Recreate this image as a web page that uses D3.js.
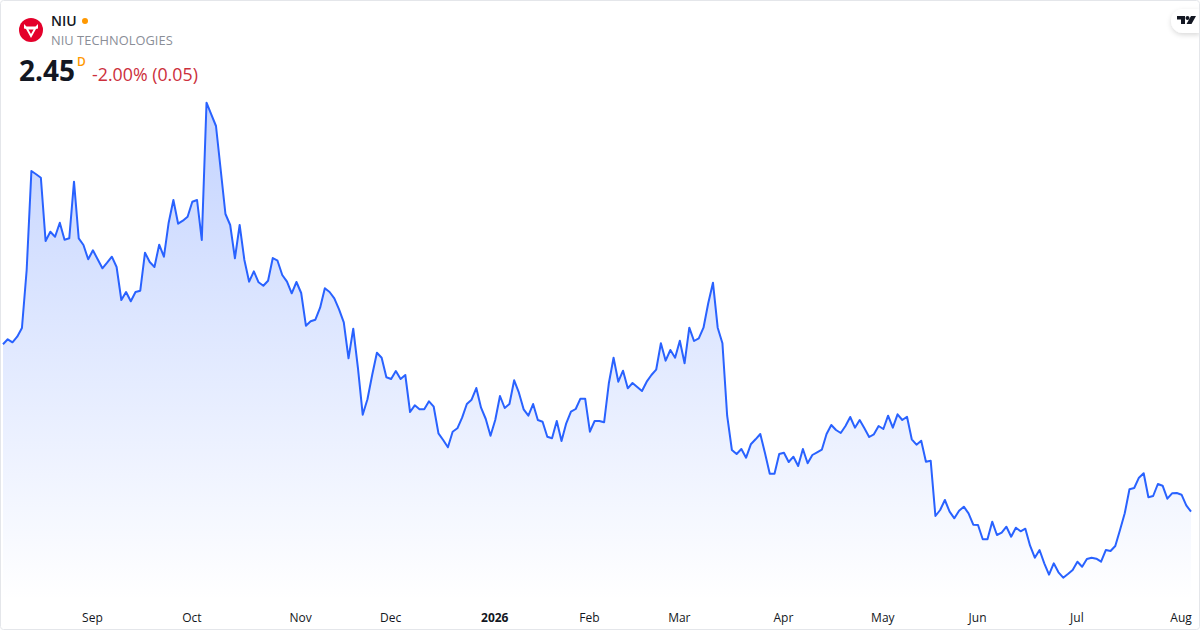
<!DOCTYPE html>
<html>
<head>
<meta charset="UTF-8">
<title>NIU</title>
<script src="https://cdn.jsdelivr.net/npm/d3@7"></script>
<style>
  html, body { margin: 0; padding: 0; background: #fff; }
  svg { display: block; font-family: "Open Sans", sans-serif; }
</style>
</head>
<body>
<script>
const closes = [
  4.127, 4.177, 4.147, 4.203, 4.29, 4.87, 5.86, 5.827, 5.793, 5.16, 5.253, 5.203, 5.343, 5.173, 5.187, 5.753,
  5.187, 5.12, 4.977, 5.067, 4.977, 4.887, 4.943, 5.003, 4.9, 4.57, 4.65, 4.557, 4.65, 4.663, 5.043, 4.95,
  4.9, 5.123, 5.003, 5.343, 5.57, 5.333, 5.363, 5.403, 5.553, 5.57, 5.17, 6.543, 6.427, 6.31, 5.87, 5.43,
  5.32, 4.987, 5.32, 4.97, 4.753, 4.857, 4.747, 4.713, 4.763, 4.99, 4.963, 4.82, 4.753, 4.637, 4.75, 4.64,
  4.313, 4.357, 4.373, 4.493, 4.687, 4.65, 4.587, 4.477, 4.347, 3.987, 4.283, 3.887, 3.423, 3.577, 3.82, 4.043,
  3.993, 3.797, 3.78, 3.86, 3.78, 3.82, 3.45, 3.517, 3.477, 3.477, 3.557, 3.503, 3.237, 3.17, 3.097, 3.253,
  3.287, 3.393, 3.53, 3.573, 3.69, 3.493, 3.38, 3.213, 3.37, 3.61, 3.49, 3.53, 3.767, 3.643, 3.477, 3.413,
  3.53, 3.37, 3.353, 3.203, 3.187, 3.36, 3.16, 3.337, 3.453, 3.48, 3.583, 3.583, 3.253, 3.36, 3.36, 3.347,
  3.737, 3.993, 3.753, 3.863, 3.687, 3.74, 3.7, 3.66, 3.753, 3.82, 3.873, 4.137, 3.963, 4.07, 3.993, 4.163,
  3.937, 4.293, 4.16, 4.187, 4.293, 4.537, 4.743, 4.293, 4.137, 3.413, 3.07, 3.03, 3.08, 2.993, 3.127, 3.177,
  3.23, 3.037, 2.833, 2.833, 3.03, 3.043, 2.95, 3.003, 2.91, 3.08, 2.937, 3.02, 3.047, 3.073, 3.23, 3.32,
  3.27, 3.24, 3.31, 3.4, 3.293, 3.37, 3.287, 3.2, 3.227, 3.31, 3.28, 3.413, 3.293, 3.427, 3.37, 3.403,
  3.177, 3.123, 3.163, 2.953, 2.963, 2.41, 2.47, 2.57, 2.453, 2.387, 2.463, 2.503, 2.437, 2.323, 2.32, 2.177,
  2.177, 2.353, 2.22, 2.243, 2.303, 2.203, 2.293, 2.257, 2.283, 2.113, 1.993, 2.07, 1.937, 1.823, 1.937, 1.847,
  1.793, 1.83, 1.87, 1.953, 1.903, 1.98, 1.993, 1.983, 1.953, 2.07, 2.06, 2.11, 2.27, 2.437, 2.677, 2.69,
  2.793, 2.837, 2.597, 2.61, 2.73, 2.713, 2.583, 2.637, 2.64, 2.623, 2.517, 2.453
]
const monthLabels = ['Sep', 'Oct', 'Nov', 'Dec', '2026', 'Feb', 'Mar', 'Apr', 'May', 'Jun', 'Jul', 'Aug']
const monthBars = [19, 40, 63, 82, 104, 124, 143, 165, 186, 206, 227, 249]

const width = 1200, height = 630

const svg = d3.select('body').append('svg')
  .attr('width', width)
  .attr('height', height)

const x = d3.scaleLinear().domain([0, closes.length - 1]).range([3, 1191])
const y = d3.scaleLinear().domain([1.57, 6.55]).range([600, 102])

// area fades out towards the time axis
const grad = svg.append('defs').append('linearGradient')
  .attr('id', 'fade')
  .attr('gradientUnits', 'userSpaceOnUse')
  .attr('x1', 0).attr('x2', 0)
  .attr('y1', 102).attr('y2', 600)
grad.append('stop').attr('offset', 0).attr('stop-color', '#2962ff').attr('stop-opacity', 0.28)
grad.append('stop').attr('offset', 1).attr('stop-color', '#2962ff').attr('stop-opacity', 0)

svg.append('path')
  .datum(closes)
  .attr('fill', 'url(#fade)')
  .attr('d', d3.area()
    .x((d, i) => x(i))
    .y0(y.range()[0])
    .y1(d => y(d)))

svg.append('path')
  .datum(closes)
  .attr('fill', 'none')
  .attr('stroke', '#2962ff')
  .attr('stroke-width', 2)
  .attr('stroke-linejoin', 'round')
  .attr('d', d3.line()
    .x((d, i) => x(i))
    .y(d => y(d)))

// time axis
const axis = svg.append('g')
  .attr('transform', 'translate(-1,611)')
  .call(d3.axisBottom(x)
    .tickValues(monthBars)
    .tickSize(0)
    .tickPadding(2)
    .tickFormat((d, i) => monthLabels[i]))
axis.select('.domain').remove()
axis.selectAll('text')
  .attr('fill', '#131722')
  .attr('font-family', '"Open Sans", sans-serif')
  .attr('font-size', 12)
  .attr('font-weight', d => d === 104 ? 700 : 400)

// header
const logo = svg.append('g').attr('transform', 'translate(31,30)')
logo.append('circle').attr('r', 12).attr('fill', '#e4002b')
logo.append('path')
  .attr('d', 'M-7,-6 L-4.5,-3.5 L4.5,-3.5 L7,-6 L7,-1.5 L5,-1 L0,8 L-5,-1 L-7,-1.5 Z M-2.6,-0.5 L0,4 L2.6,-0.5 Z')
  .attr('fill', '#fff')
  .attr('fill-rule', 'evenodd')

svg.append('text').attr('x', 51).attr('y', 26)
  .attr('font-size', 14).attr('font-weight', 600).attr('fill', '#131722').text('NIU')
svg.append('circle').attr('cx', 85).attr('cy', 21).attr('r', 3).attr('fill', '#ff9800')
svg.append('text').attr('x', 51).attr('y', 45)
  .attr('font-size', 12.8).attr('letter-spacing', 0.06).attr('fill', '#8a8e97').text('NIU TECHNOLOGIES')
svg.append('text').attr('x', 19).attr('y', 81)
  .attr('font-size', 28).attr('font-weight', 700).attr('fill', '#131722').text('2.45')
svg.append('text').attr('x', 77).attr('y', 66)
  .attr('font-size', 12).attr('font-weight', 600).attr('fill', '#ff9800').text('D')
svg.append('text').attr('x', 92).attr('y', 81)
  .attr('font-size', 17.8).attr('fill', '#cc2f3c').text('-2.00% (0.05)')

// tradingview badge
const shadow = svg.select('defs').append('filter').attr('id', 'soft')
  .attr('x', '-30%').attr('y', '-30%').attr('width', '160%').attr('height', '160%')
shadow.append('feDropShadow').attr('dx', 0).attr('dy', 2).attr('stdDeviation', 2.5)
  .attr('flood-color', '#000').attr('flood-opacity', 0.15)
svg.append('path')
  .attr('d', 'M1200,9 H1183 A12,12 0 0 0 1171,21 A12,12 0 0 0 1183,33 H1200 Z')
  .attr('fill', '#fff')
  .attr('filter', 'url(#soft)')
svg.append('path')
  .attr('d', 'M1177,16 H1185 V24 H1181 V19.5 H1177 Z M1191,16 H1196 L1191.5,24 H1186.5 Z')
  .attr('fill', '#131722')
svg.append('circle').attr('cx', 1187.5).attr('cy', 18).attr('r', 2).attr('fill', '#131722')

// frame
svg.append('rect')
  .attr('x', 0.5).attr('y', 0.5)
  .attr('width', width - 1).attr('height', height - 1)
  .attr('rx', 3)
  .attr('fill', 'none')
  .attr('stroke', '#e4e6ea')
</script>
</body>
</html>
